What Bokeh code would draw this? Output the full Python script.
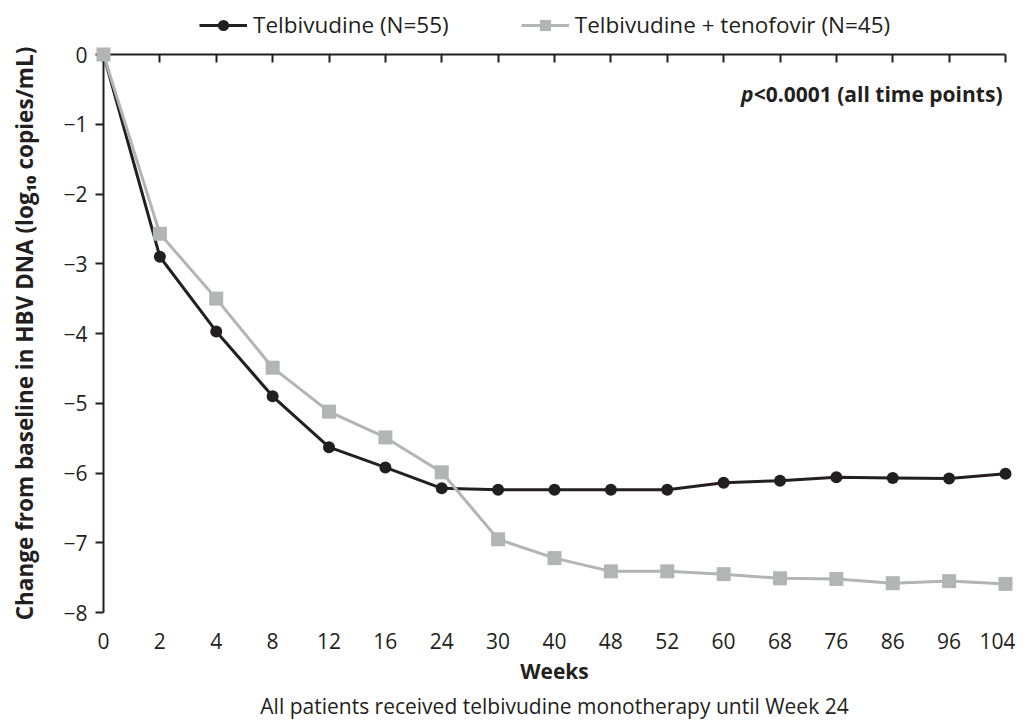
from bokeh.plotting import figure
from bokeh.layouts import column
from bokeh.models import FixedTicker, LinearAxis, Range1d, Legend, LegendItem, Label, Title
from bokeh.embed import file_html
from bokeh.resources import INLINE

# ---- data ----
weeks = ["0", "2", "4", "8", "12", "16", "24", "30", "40", "48", "52",
         "60", "68", "76", "86", "96", "104"]
telbivudine = [0, -2.90, -3.97, -4.90, -5.63, -5.92, -6.22, -6.24, -6.24, -6.24,
               -6.24, -6.14, -6.11, -6.06, -6.07, -6.08, -6.01]
telbivudine_tenofovir = [0, -2.57, -3.50, -4.49, -5.12, -5.49, -5.99, -6.95, -7.22,
                         -7.41, -7.41, -7.45, -7.51, -7.52, -7.58, -7.55, -7.59]
series_names = ["Telbivudine (N=55)", "Telbivudine + tenofovir (N=45)"]
y_ticks = [0, -1, -2, -3, -4, -5, -6, -7, -8]
y_title = "Change from baseline in HBV DNA (log\u2081\u2080 copies/mL)"
x_title = "Weeks"
footnote = "All patients received telbivudine monotherapy until Week 24"
p_value_italic = "p"
p_value_rest = "<0.0001 (all time points)"

FONT = "Open Sans"
BLACK = "#231f20"
GREY = "#b3b4b6"

x = list(range(len(weeks)))

# ---------------- legend strip ----------------
leg = figure(width=1015, height=40, output_backend="svg", toolbar_location=None,
             x_range=Range1d(0, len(weeks) - 1), y_range=Range1d(100, 101),
             x_axis_location=None, y_axis_location=None,
             min_border_left=0, min_border_right=0, min_border_top=0, min_border_bottom=0)
leg.outline_line_color = None
leg.grid.visible = False
ll1 = leg.line(x, telbivudine, line_color=BLACK, line_width=3)
ls1 = leg.scatter(x, telbivudine, marker="circle", size=12, fill_color=BLACK, line_color=None)
ll2 = leg.line(x, telbivudine_tenofovir, line_color=GREY, line_width=3)
ls2 = leg.scatter(x, telbivudine_tenofovir, marker="square", size=14, fill_color=GREY,
                  line_color=None)
legend = Legend(items=[LegendItem(label=series_names[0], renderers=[ll1, ls1]),
                       LegendItem(label=series_names[1], renderers=[ll2, ls2])],
                orientation="horizontal", location=(96, 0),
                glyph_width=48, glyph_height=28, label_standoff=6, spacing=72,
                padding=0, margin=0, background_fill_alpha=0, border_line_alpha=0,
                label_text_font=FONT, label_text_font_size="22.5px",
                label_text_color=BLACK)
leg.add_layout(legend, "center")

# ---------------- main chart ----------------
p = figure(width=1015, height=682, output_backend="svg", toolbar_location=None,
           x_range=Range1d(0, len(weeks) - 1), y_range=Range1d(y_ticks[-1], y_ticks[0]),
           x_axis_location=None, y_axis_location=None,
           min_border_left=103, min_border_right=10, min_border_top=14,
           min_border_bottom=110)
p.outline_line_color = None
p.grid.visible = False

# left axis
left = LinearAxis(ticker=FixedTicker(ticks=y_ticks),
                  major_label_overrides={t: ("0" if t == 0 else "\u2212%d" % (-t)) for t in y_ticks})
left.axis_line_color = BLACK
left.axis_line_width = 2
left.major_tick_line_color = BLACK
left.major_tick_line_width = 2
left.major_tick_out = 8
left.major_tick_in = 0
left.minor_tick_out = 0
left.minor_tick_in = 0
left.major_label_standoff = 8
left.major_label_text_font = FONT
left.major_label_text_font_size = "21px"
left.major_label_text_color = BLACK
left.axis_label = y_title
left.axis_label_text_font = FONT
left.axis_label_text_font_size = "22.5px"
left.axis_label_text_font_style = "bold"
left.axis_label_text_color = BLACK
left.axis_label_standoff = 20
p.add_layout(left, "left")

# top axis (line + inward ticks, no labels)
top = LinearAxis(ticker=FixedTicker(ticks=x),
                 major_label_overrides={i: "" for i in x})
top.axis_line_color = BLACK
top.axis_line_width = 2
top.major_tick_line_color = BLACK
top.major_tick_line_width = 2
top.major_tick_in = 8
top.major_tick_out = 0
top.minor_tick_out = 0
top.minor_tick_in = 0
top.major_label_standoff = 0
top.major_label_text_font_size = "1px"
p.add_layout(top, "above")

# bottom axis (labels only)
bottom = LinearAxis(ticker=FixedTicker(ticks=x),
                    major_label_overrides={i: w for i, w in zip(x, weeks)})
bottom.axis_line_color = None
bottom.major_tick_line_color = None
bottom.minor_tick_line_color = None
bottom.major_tick_out = 0
bottom.major_tick_in = 0
bottom.major_label_standoff = 20
bottom.major_label_text_font = FONT
bottom.major_label_text_font_size = "21px"
bottom.major_label_text_color = BLACK
bottom.axis_label = x_title
bottom.axis_label_text_font = FONT
bottom.axis_label_text_font_size = "21px"
bottom.axis_label_text_font_style = "bold"
bottom.axis_label_text_color = BLACK
bottom.axis_label_standoff = 5
p.add_layout(bottom, "below")

# series
p.line(x, telbivudine, line_color=BLACK, line_width=3, level="overlay")
p.scatter(x, telbivudine, marker="circle", size=12, fill_color=BLACK,
          line_color=None, level="overlay")
p.line(x, telbivudine_tenofovir, line_color=GREY, line_width=3, level="overlay")
p.scatter(x, telbivudine_tenofovir, marker="square", size=14, fill_color=GREY,
          line_color=None, level="overlay")

# p-value annotation
p.add_layout(Label(x=len(weeks) - 1, y=-0.57, text=p_value_rest, text_align="right",
                   text_baseline="middle", x_offset=-3, text_font=FONT,
                   text_font_size="21px", text_font_style="bold", text_color=BLACK))
p.add_layout(Label(x=len(weeks) - 1, y=-0.57, text=p_value_italic, text_align="right",
                   text_baseline="middle", x_offset=-252, text_font=FONT,
                   text_font_size="21px", text_font_style="bold italic", text_color=BLACK))

# footnote
p.add_layout(Title(text=footnote, align="center", text_font=FONT,
                   text_font_size="21px", text_font_style="normal",
                   standoff=5, text_color=BLACK), "below")

layout = column(leg, p, spacing=0)
open("out.html", "w").write(file_html(layout, INLINE))
